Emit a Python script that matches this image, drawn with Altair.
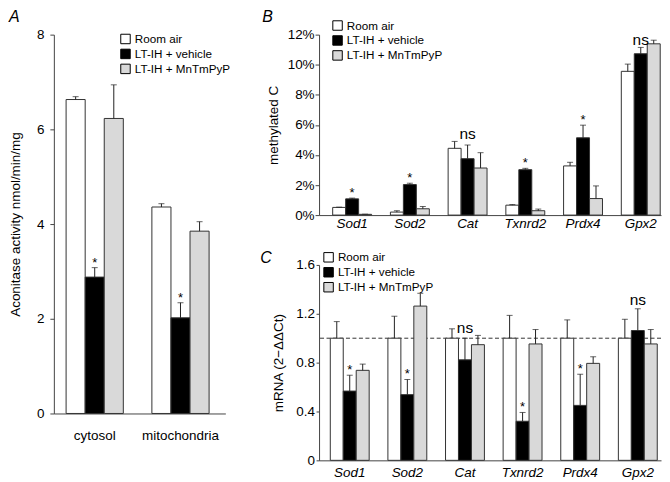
import altair as alt
import pandas as pd

FONT = "Liberation Sans"
SERIES = ["Room air", "LT-IH + vehicle", "LT-IH + MnTmPyP"]
FILLS = ["#ffffff", "#000000", "#d9d9d9"]

# Panel A: aconitase activity
A_GROUPS = ["cytosol", "mitochondria"]
A_ROOM = [6.63, 4.36]
A_ROOM_ERR = [0.06, 0.07]
A_VEH = [2.88, 2.02]
A_VEH_ERR = [0.20, 0.32]
A_MN = [6.23, 3.85]
A_MN_ERR = [0.71, 0.20]
A_STARS = ["cytosol", "mitochondria"]

# Panel B: methylated C (%)
GENES = ["Sod1", "Sod2", "Cat", "Txnrd2", "Prdx4", "Gpx2"]
B_ROOM = [0.51, 0.20, 4.44, 0.66, 3.27, 9.56]
B_ROOM_ERR = [0.02, 0.09, 0.46, 0.04, 0.24, 0.48]
B_VEH = [1.08, 2.03, 3.75, 3.02, 5.14, 10.73]
B_VEH_ERR = [0.05, 0.09, 0.91, 0.09, 0.84, 0.42]
B_MN = [0.05, 0.42, 3.13, 0.29, 1.10, 11.39]
B_MN_ERR = [0.01, 0.15, 1.02, 0.11, 0.84, 0.24]
B_STARS = ["Sod1", "Sod2", "Txnrd2", "Prdx4"]
B_NS = ["Cat", "Gpx2"]
B_NS_Y = [5.36, 11.65]

# Panel C: mRNA (2^-ddCt)
C_ROOM = [1.0, 1.0, 1.0, 1.0, 1.0, 1.0]
C_ROOM_ERR = [0.136, 0.18, 0.077, 0.187, 0.15, 0.155]
C_VEH = [0.567, 0.538, 0.823, 0.32, 0.45, 1.063]
C_VEH_ERR = [0.13, 0.124, 0.177, 0.072, 0.255, 0.178]
C_MN = [0.737, 1.263, 0.947, 0.953, 0.794, 0.953]
C_MN_ERR = [0.051, 0.105, 0.076, 0.118, 0.054, 0.118]
C_STARS = ["Sod1", "Sod2", "Txnrd2", "Prdx4"]
C_NS = ["Cat", "Gpx2"]
C_NS_Y = [1.086, 1.312]


def bar_table(groups, vals, errs):
    rows = []
    for s, v, e in zip(SERIES, vals, errs):
        for g, vv, ee in zip(groups, v, e):
            rows.append({"group": g, "series": s, "value": vv, "top": vv + ee})
    return pd.DataFrame(rows)


def panel(groups, vals, errs, stars, ns, ns_y, width, height, ydomain, yticks,
          ytitle, label_expr, italic, xlabpad, pads, legend_xy, letter, letter_xy,
          ylabpad, ytick, ytitlepad, frame, ref=None):
    df = bar_table(groups, vals, errs)
    xscale = alt.Scale(paddingInner=pads[0], paddingOuter=pads[1], align=pads[2])
    xaxis = alt.Axis(labelAngle=0, ticks=False, tickSize=0, domainColor="#444",
                     labelFontSize=13.5,
                     labelFontStyle="italic" if italic else "normal",
                     labelPadding=xlabpad, labelColor="black")
    X = alt.X("group:N", sort=groups, title=None, scale=xscale, axis=xaxis)
    XO = alt.XOffset("series:N", sort=SERIES,
                     scale=alt.Scale(domain=SERIES, paddingInner=0, paddingOuter=0))
    yscale = alt.Scale(domain=ydomain, nice=False, zero=True)
    yaxis = alt.Axis(values=yticks, title=ytitle, grid=False, labelExpr=label_expr,
                     tickSize=ytick, labelPadding=ylabpad, titlePadding=ytitlepad,
                     domainColor="#444", tickColor="#444", labelFontSize=13.5,
                     titleFontSize=13.5, titleFontWeight="normal", labelColor="black",
                     titleColor="black")

    def Y(field):
        return alt.Y(field, scale=yscale, axis=yaxis)

    bars = alt.Chart(df).mark_bar(stroke="#333", strokeWidth=1).encode(
        x=X, xOffset=XO, y=Y("value:Q"),
        fill=alt.Fill("series:N", sort=SERIES,
                      scale=alt.Scale(domain=SERIES, range=FILLS),
                      legend=alt.Legend(title=None, orient="none",
                                        legendX=legend_xy[0], legendY=legend_xy[1],
                                        symbolType="square", symbolSize=90,
                                        symbolStrokeColor="black", symbolStrokeWidth=1,
                                        labelFontSize=11.7, labelFont=FONT,
                                        labelColor="black", rowPadding=1.0,
                                        labelOffset=3.5, padding=0)),
    )
    err = alt.Chart(df).mark_rule(color="#222", strokeWidth=1).encode(
        x=X, xOffset=XO, y=Y("value:Q"), y2="top:Q")
    cap = alt.Chart(df).mark_tick(color="#222", thickness=1, size=6).encode(
        x=X, xOffset=XO, y=Y("top:Q"))
    layers = [bars, err, cap]
    if ref is not None:
        rdf = pd.DataFrame({"value": [ref]})
        layers.insert(0, alt.Chart(rdf).mark_rule(
            strokeDash=[4, 2.5], color="#333", strokeWidth=1).encode(y=Y("value:Q")))
    sdf = df[(df.series == SERIES[1]) & (df.group.isin(stars))]
    layers.append(alt.Chart(sdf).mark_text(text="*", fontSize=13, dy=-5,
                                           baseline="middle", font=FONT, color="black").encode(
        x=X, xOffset=XO, y=Y("top:Q")))
    if ns:
        ndf = pd.DataFrame({"group": ns, "series": [SERIES[1]] * len(ns), "top": ns_y})
        layers.append(alt.Chart(ndf).mark_text(text="ns", fontSize=15.5,
                                               baseline="middle", font=FONT,
                                               color="black").encode(
            x=X, xOffset=XO, y=Y("top:Q")))
    ldf = pd.DataFrame({"t": [letter]})
    layers.append(alt.Chart(ldf).mark_text(fontSize=16, fontStyle="italic", align="left",
                                           baseline="top", font=FONT,
                                           color="black").encode(
        text="t:N", x=alt.value(letter_xy[0]), y=alt.value(letter_xy[1])))
    # invisible rule that fixes the outer edge of the figure
    fdf = pd.DataFrame({"k": [0]})
    layers.append(alt.Chart(fdf).mark_rule(strokeOpacity=0, strokeWidth=0.01).encode(
        x=alt.value(frame[0]), x2=alt.value(frame[0]),
        y=alt.value(frame[1]), y2=alt.value(frame[2])))
    return alt.layer(*layers).properties(
        width=width, height=height,
        view=alt.ViewBackground(stroke="transparent", strokeWidth=0))


A = panel(A_GROUPS, [A_ROOM, A_VEH, A_MN], [A_ROOM_ERR, A_VEH_ERR, A_MN_ERR],
          A_STARS, [], [], 172, 380, [0, 8], [0, 2, 4, 6, 8],
          "Aconitase activity nmol/min/mg", "datum.label", False, 15,
          (0.333, 0.166, 0.43), (66, -1.5), "A", (-45, -26), 6, 4, 13.5,
          (-45, -26, 440))

B = panel(GENES, [B_ROOM, B_VEH, B_MN], [B_ROOM_ERR, B_VEH_ERR, B_MN_ERR],
          B_STARS, B_NS, B_NS_Y, 343, 181, [0, 12], [0, 2, 4, 6, 8, 10, 12],
          "methylated C", "datum.value + '%'", True, 1,
          (0.326, 0.125, 0.945), (12.7, -15), "B", (-57, -26), 1, 4, 7,
          (343, -26, 0))

C = panel(GENES, [C_ROOM, C_VEH, C_MN], [C_ROOM_ERR, C_VEH_ERR, C_MN_ERR],
          C_STARS, C_NS, C_NS_Y, 343, 196, [0, 1.6], [0, 0.4, 0.8, 1.2, 1.6],
          "mRNA (2−ΔΔCt)", "datum.value == 0 ? '0' : format(datum.value, '.1f')", True, 5,
          (0.325, 0.13, 0.75), (3.7, -13.5), "C", (-59, -15), 1.7, 3, 10,
          (343, 0, 209), ref=1.0)

right = alt.vconcat(B, C, spacing=20).resolve_scale(fill="independent",
                                                    xOffset="independent")
chart = alt.hconcat(A, right, spacing=30).resolve_scale(
    fill="independent", xOffset="independent"
).properties(
    padding={"left": 0, "top": 0, "right": 0, "bottom": 0},
    autosize=alt.AutoSizeParams(type="pad"),
).configure_view(
    stroke="transparent", strokeWidth=0
).configure(font=FONT).configure_axis(labelFont=FONT, titleFont=FONT)

chart.save("out.html", embed_options={"renderer": "svg", "actions": False})
